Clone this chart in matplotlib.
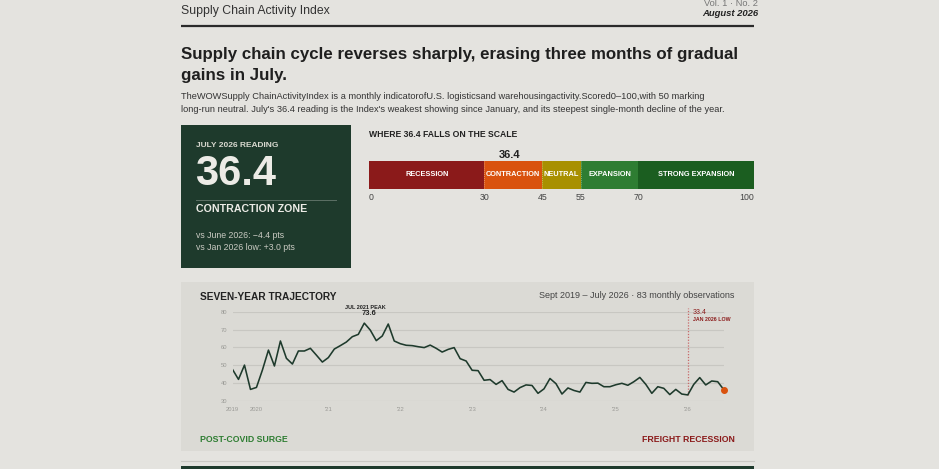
import pandas as pd
import matplotlib.pyplot as plt
import numpy as np
from matplotlib.patches import Rectangle

plt.rcParams['font.family'] = ['Liberation Sans', 'DejaVu Sans']

# index readings, Sept 2019 - July 2026 (83 months)
months = pd.date_range('2019-09-01', periods=83, freq='MS')
index_values = [
    47.7, 42.1, 50.1, 36.5,
    37.6, 47.4, 58.5, 49.6, 63.6, 53.9, 50.7, 58.0, 58.0, 59.5, 55.7, 51.8,
    54.3, 59.1, 61.0, 63.0, 66.0, 67.3, 73.6, 69.7, 63.8, 66.4, 73.1, 63.6,
    62.1, 61.2, 61.0, 60.4, 59.9, 61.3, 59.5, 57.4, 58.9, 59.9, 53.7, 52.4,
    47.2, 47.0, 41.6, 42.0, 39.3, 41.4, 36.5, 35.0, 37.5, 39.0, 38.7, 34.3,
    36.8, 42.6, 39.7, 33.9, 37.3, 35.9, 35.0, 40.4, 39.9, 40.0, 38.0, 38.0,
    39.1, 39.9, 38.8, 40.8, 43.2, 39.3, 34.3, 38.0, 37.1, 33.6, 36.5, 33.9,
    33.4, 39.3, 43.1, 39.0, 41.2, 40.8, 36.4,
]
tick_months = ['2019-09', '2020-01', '2021-01', '2022-01', '2023-01', '2024-01', '2025-01', '2026-01']
tick_labels = ['2019', '2020', "'21", "'22", "'23", "'24", "'25", "'26"]

# zone scale
zone_names = ['RECESSION', 'CONTRACTION', 'NEUTRAL', 'EXPANSION', 'STRONG EXPANSION']
zone_start = [0, 30, 45, 55, 70]
zone_end = [30, 45, 55, 70, 100]
zone_colors = ['#8b1a1a', '#d9520e', '#a89000', '#2e7d32', '#1b5e20']
scale_ticks = [0, 30, 45, 55, 70, 100]

latest = 36.4
peak_month, peak_value = '2021-07', 73.6
low_month, low_value = '2026-01', 33.4

W, H = 939, 469
BG = '#e4e3df'
PANEL = '#dbdad5'
DARK = '#1e3a2c'
RED = '#8b1a1a'
ORANGE = '#d9520e'


def box(x0, y0, x1, y1):
    # pixel box (from top-left) -> figure fraction
    return [x0 / W, 1 - y1 / H, (x1 - x0) / W, (y1 - y0) / H]


fig = plt.figure(figsize=(9.39, 4.69), dpi=100, facecolor=BG)

# overlay for page text and blocks
pg = fig.add_axes([0, 0, 1, 1], zorder=0)
pg.set_xlim(0, W)
pg.set_ylim(H, 0)
pg.axis('off')

pg.text(181, 14, 'Supply Chain Activity Index', fontsize=8.8, color='#333333', va='baseline')
pg.text(758, 6, 'Vol. 1 · No. 2', fontsize=6.7, color='#777777', ha='right', va='baseline')
pg.text(758, 16.5, 'August 2026', fontsize=6.8, color='#222222', ha='right', va='baseline',
        fontweight='bold', style='italic')
pg.plot([181, 754], [26, 26], color='#2a2a2a', lw=1.6, solid_capstyle='butt')

pg.text(181, 59.3, 'Supply chain cycle reverses sharply, erasing three months of gradual',
        fontsize=12.2, fontweight='bold', color='#1f1f1f', va='baseline')
pg.text(181, 80, 'gains in July.', fontsize=12.2, fontweight='bold', color='#1f1f1f', va='baseline')
pg.text(181, 98.7, 'TheWOWSupply ChainActivityIndex is a monthly indicatorofU.S. logisticsand '
        'warehousingactivity.Scored0\u2013100,with 50 marking',
        fontsize=6.65, color='#333333', va='baseline')
pg.text(181, 112, "long-run neutral. July's 36.4 reading is the Index's weakest showing since January, "
        'and its steepest single-month decline of the year.',
        fontsize=6.65, color='#333333', va='baseline')

# reading box
pg.add_patch(Rectangle((181, 125.5), 170, 143, color=DARK, lw=0))
pg.text(196, 147.3, 'JULY 2026 READING', fontsize=6.0, fontweight='bold', color='#d8d8cf', va='baseline')
pg.text(195, 185, f'{latest:.1f}', fontsize=30, fontweight='bold', color='#ecebe6', va='baseline')
pg.plot([196, 336], [200.3, 200.3], color='#5c7065', lw=0.7)
pg.text(196, 212.3, 'CONTRACTION ZONE', fontsize=7.65, fontweight='bold', color='#ecebe6', va='baseline')
pg.text(196, 238, 'vs June 2026: \u22124.4 pts', fontsize=6.35, color='#c9cac2', va='baseline')
pg.text(196, 250.5, 'vs Jan 2026 low: +3.0 pts', fontsize=6.35, color='#c9cac2', va='baseline')

pg.text(369, 136.7, 'WHERE 36.4 FALLS ON THE SCALE', fontsize=6.2, fontweight='bold',
        color='#222222', va='baseline')

# chart panel and footer
pg.add_patch(Rectangle((181, 282), 573, 168.7, color=PANEL, lw=0))
pg.text(200.5, 300, 'SEVEN-YEAR TRAJECTORY', fontsize=7.3, fontweight='bold', color='#222222', va='baseline')
pg.text(734, 298.3, 'Sept 2019 \u2013 July 2026 · 83 monthly observations', fontsize=6.45,
        color='#444444', ha='right', va='baseline')
pg.text(200.5, 442.3, 'POST-COVID SURGE', fontsize=6.3, fontweight='bold', color='#2e7d32', va='baseline')
pg.text(734.5, 442.3, 'FREIGHT RECESSION', fontsize=6.3, fontweight='bold', color=RED,
        ha='right', va='baseline')
pg.plot([181, 754], [461, 461], color='#cac9c4', lw=0.8)
pg.add_patch(Rectangle((181, 466.5), 573, 5, color=DARK, lw=0))

# scale bar
sb = fig.add_axes(box(369, 161, 754, 188.7), zorder=1)
sb.barh(0, np.subtract(zone_end, zone_start), left=zone_start, color=zone_colors, height=1, lw=0)
for name, s, e in zip(zone_names, zone_start, zone_end):
    sb.text((s + e) / 2, 0, name, fontsize=5.3, fontweight='bold', color='white', ha='center', va='center')
for b in zone_start[1:4]:
    sb.axvline(b, color='white', lw=0.5, ls=(0, (1.5, 1.5)), alpha=0.5)
sb.set_xlim(0, 100)
sb.set_ylim(-0.5, 0.5)
sb.axis('off')
for t in scale_ticks:
    ha = 'left' if t == 0 else ('right' if t == 100 else 'center')
    sb.text(t, -0.5 - 11.3 / 27.7, str(t), fontsize=6.3, color='#444444', ha=ha, va='baseline')
sb.text(latest, 0.5 + 3.3 / 27.7, f'{latest:.1f}', fontsize=8, fontweight='bold',
        color='#222222', ha='center', va='baseline')

# trajectory line chart
ax = fig.add_axes(box(232.5, 311.7, 723.7, 401), zorder=1)
ax.set_facecolor('none')
x = np.arange(len(months))
ax.plot(x, index_values, color=DARK, lw=1.15, zorder=3)
ax.scatter([x[-1]], [index_values[-1]], s=16, color=ORANGE, zorder=4, clip_on=False)
ax.set_xlim(0, len(months) - 1)
ax.set_ylim(30, 80)
ax.set_yticks(range(30, 81, 10))
ax.grid(axis='y', color='#c8c7c2', lw=0.8)
ax.grid(axis='x', visible=False)
month_keys = list(months.strftime('%Y-%m'))
ax.set_xticks([month_keys.index(m) for m in tick_months])
ax.set_xticklabels(tick_labels)
ax.tick_params(length=0, labelsize=4.2, labelcolor='#9a9a96', pad=4)
for s in ax.spines.values():
    s.set_visible(False)

pk = month_keys.index(peak_month)
ax.text(pk + 0.2, 82.1, 'JUL 2021 PEAK', fontsize=4.0, fontweight='bold', color='#222222',
        ha='center', va='center', clip_on=False)
ax.text(pk + 0.8, 79.0, f'{peak_value:.1f}', fontsize=5.4, fontweight='bold', color='#222222',
        ha='center', va='center', clip_on=False)

lw_i = month_keys.index(low_month)
ax.plot([lw_i, lw_i], [low_value, 82], color='#c86a6a', lw=0.9, ls=(0, (1, 1.3)),
        clip_on=False, zorder=2)
ax.text(lw_i + 0.8, 79.6, f'{low_value:.1f}', fontsize=5, color=RED, ha='left', va='center', clip_on=False)
ax.text(lw_i + 0.8, 75.7, 'JAN 2026 LOW', fontsize=3.75, fontweight='bold', color=RED,
        ha='left', va='center', clip_on=False)

fig.savefig('out.png', dpi=100, facecolor=BG)
